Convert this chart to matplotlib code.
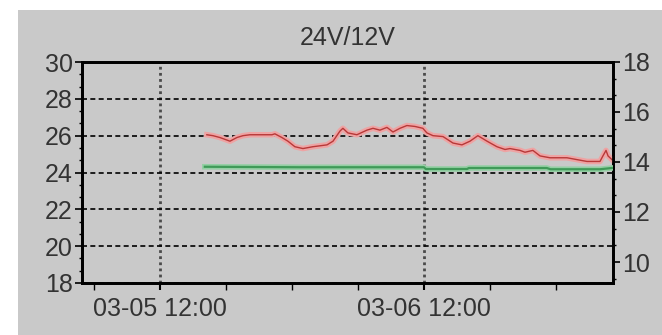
import matplotlib
matplotlib.use("Agg")
import matplotlib.pyplot as plt
import matplotlib.dates as mdates
from matplotlib.ticker import MultipleLocator, AutoMinorLocator, NullFormatter
from matplotlib.patches import Rectangle
import pandas as pd

# 24V bank (left axis)
red_times = [
    "03-05 16:16", "03-05 16:49", "03-05 17:27", "03-05 18:22", "03-05 19:00",
    "03-05 19:33", "03-05 20:11", "03-05 22:11", "03-05 22:27", "03-05 23:05",
    "03-05 23:38", "03-06 00:16", "03-06 01:00", "03-06 01:54", "03-06 03:11",
    "03-06 03:44", "03-06 04:22", "03-06 04:38", "03-06 05:05", "03-06 05:54",
    "03-06 06:49", "03-06 07:22", "03-06 08:00", "03-06 08:38", "03-06 09:11",
    "03-06 09:49", "03-06 10:27", "03-06 11:11", "03-06 11:54", "03-06 12:16",
    "03-06 12:49", "03-06 13:44", "03-06 14:38", "03-06 15:27", "03-06 16:11",
    "03-06 16:54", "03-06 17:44", "03-06 18:38", "03-06 19:22", "03-06 19:49",
    "03-06 20:44", "03-06 21:11", "03-06 21:54", "03-06 22:33", "03-06 23:27",
    "03-07 01:00", "03-07 01:54", "03-07 02:49", "03-07 04:00", "03-07 04:16",
    "03-07 04:33", "03-07 04:44", "03-07 05:05",
]
red_values = [
    26.05, 26.0, 25.9, 25.7, 25.9,
    26.0, 26.05, 26.05, 26.1, 25.9,
    25.7, 25.4, 25.3, 25.4, 25.5,
    25.7, 26.25, 26.4, 26.15, 26.05,
    26.3, 26.4, 26.3, 26.45, 26.2,
    26.4, 26.55, 26.5, 26.4, 26.15,
    26.0, 25.95, 25.6, 25.5, 25.7,
    26.0, 25.7, 25.4, 25.25, 25.3,
    25.2, 25.1, 25.2, 24.9, 24.8,
    24.8, 24.7, 24.6, 24.6, 24.9,
    25.2, 24.9, 24.7,
]

# 12V bank (right axis)
green_times = [
    "03-05 16:05", "03-06 00:40", "03-06 12:00", "03-06 12:10", "03-06 15:55",
    "03-06 16:05", "03-06 23:10", "03-06 23:30", "03-07 04:00", "03-07 05:05",
]
green_values = [
    13.81, 13.79, 13.79, 13.72, 13.72,
    13.76, 13.76, 13.71, 13.71, 13.76,
]

title = "24V/12V"
x_start = "03-05 04:55"
x_end = "03-07 05:11"

year = "2024-"
red_t = pd.to_datetime([year + s for s in red_times])
green_t = pd.to_datetime([year + s for s in green_times])

plt.rcParams["font.family"] = ["Liberation Sans", "DejaVu Sans"]
txt = "#333333"
bg = "#c9c9c9"

fig = plt.figure(figsize=(6.62, 3.35), dpi=100, facecolor="white")
fig.patches.append(Rectangle((18 / 662, 0), 1, 1 - 10 / 335, transform=fig.transFigure,
                             facecolor=bg, edgecolor="none", zorder=-10))
ax = fig.add_axes([82 / 662, 1 - 283 / 335, 531 / 662, 221 / 335])
ax.set_facecolor(bg)
ax2 = ax.twinx()

ax.plot(red_t, red_values, color="#eea3a3", lw=4, solid_joinstyle="round", zorder=3)
ax.plot(red_t, red_values, color="#b83838", lw=1.0, zorder=4)
ax2.plot(green_t, green_values, color="#93cfa3", lw=4, zorder=3)
ax2.plot(green_t, green_values, color="#3f9a58", lw=1.6, zorder=4)

ax.set_xlim(pd.to_datetime(year + x_start), pd.to_datetime(year + x_end))
ax.set_ylim(18, 30)
ax2.set_ylim(18 - 221 / 25, 18)

ax.yaxis.set_major_locator(MultipleLocator(2))
ax.yaxis.set_minor_locator(AutoMinorLocator(3))
ax2.yaxis.set_major_locator(MultipleLocator(2))
ax2.yaxis.set_minor_locator(AutoMinorLocator(3))

ax.xaxis.set_major_locator(mdates.HourLocator(byhour=[12]))
ax.xaxis.set_major_formatter(mdates.DateFormatter("%m-%d %H:%M"))
ax.xaxis.set_minor_locator(mdates.HourLocator(byhour=[0, 6, 18]))
ax.xaxis.set_minor_formatter(NullFormatter())

ax.grid(True, axis="y", which="major", color="black", lw=1.2, linestyle=(0, (3, 2)))
ax.grid(True, axis="x", which="major", color="#4a4a4a", lw=2.0, linestyle=(0, (1, 1.2)))

for a in (ax, ax2):
    for s in a.spines.values():
        s.set_linewidth(2)
        s.set_color("black")
    a.tick_params(which="major", length=5, width=1.2, colors="black", labelcolor=txt,
                  labelsize=18, pad=1.5)
    a.tick_params(which="minor", length=2.5, width=1, colors="black")
ax.tick_params(axis="x", which="both", length=5, pad=5)
ax.tick_params(axis="x", which="major", width=1.5)

ax.set_title(title, fontsize=18, color=txt, pad=12)

fig.savefig("out.png", dpi=100, facecolor=fig.get_facecolor())
